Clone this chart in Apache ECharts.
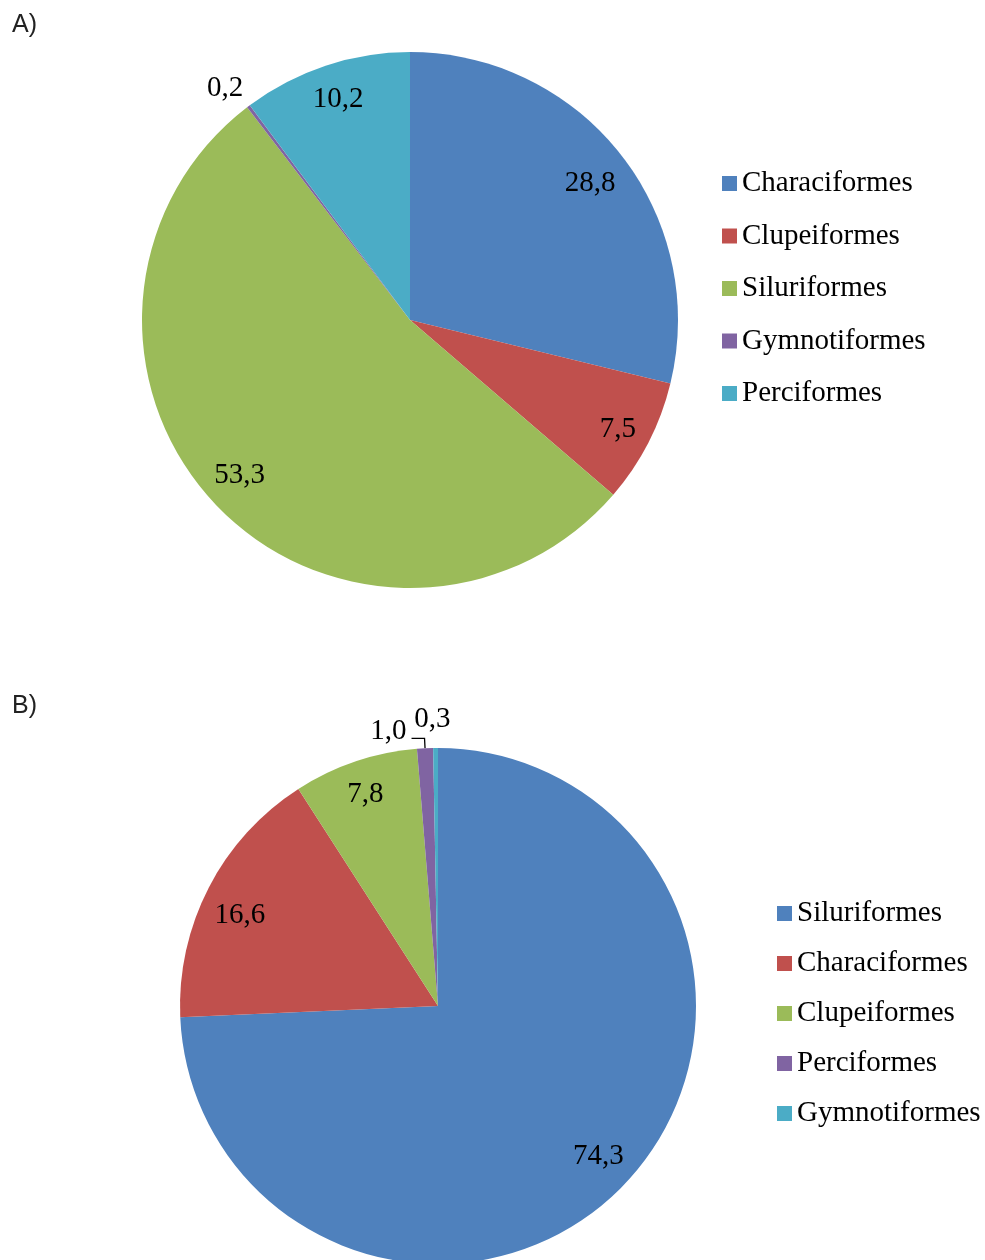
<!DOCTYPE html>
<html>
<head>
<meta charset="utf-8">
<title>Ordens de peixes</title>
<script src="https://cdn.jsdelivr.net/npm/echarts@6/dist/echarts.min.js"></script>
<style>
  html, body { margin: 0; padding: 0; background: #ffffff; }
  .panel { width: 985px; height: 630px; }
</style>
</head>
<body>
<div id="panelA" class="panel"></div>
<div id="panelB" class="panel"></div>
<script>
// Panel A: percentage by order
const namesA = ['Characiformes', 'Clupeiformes', 'Siluriformes', 'Gymnotiformes', 'Perciformes'];
const valuesA = [28.8, 7.5, 53.3, 0.2, 10.2];

// Panel B: percentage by order
const namesB = ['Siluriformes', 'Characiformes', 'Clupeiformes', 'Perciformes', 'Gymnotiformes'];
const valuesB = [74.3, 16.6, 7.8, 1.0, 0.3];

const palette = ['#4F81BD', '#C0504D', '#9BBB59', '#8064A2', '#4BACC6'];
const serif = "'Liberation Serif', 'Times New Roman', serif";
const fontSize = 29;

const fmt = p => p.value.toFixed(1).replace('.', ',');
const labelText = { color: '#000', fontFamily: serif, fontSize: fontSize, lineHeight: 29 };

// Small nudges of the value labels away from the exact mid-angle spot, [dx, dy] per slice
const nudgeA = [[-1.5, 6.5], [2.5, 3.5], [-2.5, -3], [-4, 8], [1, -1.5]];
const nudgeB = [[0, -3], [-1, 11], [-1.5, -1], [0, 0], [-3, 4]];

// One panel: the coloured pie plus transparent rings that carry the value labels.
// inside: slices labelled inside; outer: labelled just past the rim; leader: labelled with a leader line.
function buildOption(cfg) {
  const colored = cfg.names.map((n, i) => ({
    name: n,
    value: cfg.values[i],
    itemStyle: { color: palette[i] },
    label: cfg.leader.includes(i)
      ? {
          show: true,
          position: 'outside',
          // a short empty second line lifts the number above the leader's elbow
          formatter: p => fmt(p) + '\n{gap| }',
          ...labelText,
          rich: { gap: { fontSize: 10, lineHeight: 14 } }
        }
      : { show: false },
    labelLine: cfg.leader.includes(i)
      ? { show: true, length: 10, length2: 13, smooth: false, lineStyle: { color: '#000', width: 1.3 } }
      : { show: false }
  }));
  const ring = (which) => cfg.names.map((n, i) => ({
    name: n,
    value: cfg.values[i],
    itemStyle: { color: 'rgba(0,0,0,0)', borderWidth: 0 },
    label: { show: which.includes(i) }
  }));
  const ringSeries = (radius, which) => ({
    type: 'pie',
    center: cfg.center,
    radius: radius,
    startAngle: 90,
    clockwise: true,
    silent: true,
    avoidLabelOverlap: false,
    data: ring(which),
    label: { position: 'inside', formatter: fmt, ...labelText },
    labelLine: { show: false },
    labelLayout: p => ({ dx: cfg.nudge[p.dataIndex][0], dy: cfg.nudge[p.dataIndex][1] }),
    emphasis: { disabled: true },
    z: 3
  });
  return {
    animation: false,
    title: {
      text: cfg.title,
      left: 7,
      top: cfg.titleTop,
      textStyle: {
        fontFamily: "'Liberation Sans Narrow', 'Liberation Sans', sans-serif",
        fontSize: 25,
        fontWeight: 'normal',
        color: '#222'
      }
    },
    legend: {
      orient: 'vertical',
      left: cfg.legendLeft,
      top: cfg.legendTop,
      itemWidth: 15,
      itemHeight: 15,
      itemGap: cfg.legendGap,
      icon: 'rect',
      selectedMode: false,
      data: cfg.names.map((n, i) => ({ name: n, itemStyle: { color: palette[i] } })),
      textStyle: { color: '#000', fontFamily: serif, fontSize: fontSize, lineHeight: 29 }
    },
    series: [
      {
        type: 'pie',
        center: cfg.center,
        radius: [0, cfg.r],
        startAngle: 90,
        clockwise: true,
        avoidLabelOverlap: false,
        itemStyle: { borderWidth: 0 },
        emphasis: { disabled: true },
        data: colored,
        z: 2
      },
      ringSeries([cfg.inner[0], cfg.inner[1]], cfg.inside),
      ringSeries([cfg.r, cfg.outerR], cfg.outer)
    ]
  };
}

const chartA = echarts.init(document.getElementById('panelA'), null, { renderer: 'canvas' });
chartA.setOption(buildOption({
  title: 'A)', titleTop: 8,
  names: namesA, values: valuesA,
  center: [410, 320], r: 268,
  inner: [188, 268], outerR: 326,
  inside: [0, 1, 2, 4], outer: [3], leader: [],
  nudge: nudgeA,
  legendLeft: 717, legendTop: 164, legendGap: 23.5
}));

const chartB = echarts.init(document.getElementById('panelB'), null, { renderer: 'canvas' });
chartB.setOption(buildOption({
  title: 'B)', titleTop: 59,
  names: namesB, values: valuesB,
  center: [438, 376], r: 258,
  inner: [180, 258], outerR: 318,
  inside: [0, 1, 2], outer: [4], leader: [3],
  nudge: nudgeB,
  legendLeft: 772, legendTop: 264, legendGap: 21
}));
</script>
</body>
</html>
